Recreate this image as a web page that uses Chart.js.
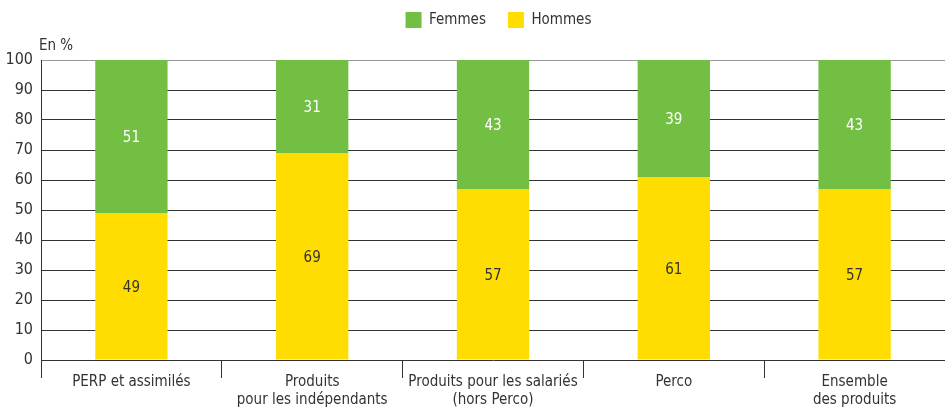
<!DOCTYPE html>
<html>
<head>
<meta charset="utf-8">
<script src="https://cdn.jsdelivr.net/npm/chart.js@4/dist/chart.umd.min.js"></script>
<style>
  html, body { margin: 0; padding: 0; background: #fff; }
  #wrap { width: 945px; height: 410px; position: relative; }
</style>
</head>
<body>
<div id="wrap"><canvas id="c"></canvas></div>
<script>
// Répartition par sexe des détenteurs de produits d'épargne retraite
const categories = [
  'PERP et assimilés',
  ['Produits', 'pour les indépendants'],
  ['Produits pour les salariés', '(hors Perco)'],
  'Perco',
  ['Ensemble', 'des produits']
];
const hommes = [49, 69, 57, 61, 57];
const femmes = [51, 31, 43, 39, 43];
const yTicks = [0, 10, 20, 30, 40, 50, 60, 70, 80, 90, 100];

const FONT = "'Liberation Sans Narrow', 'DejaVu Sans Condensed', sans-serif";
const TEXT = '#333333';
const SIZE = 15;

// Valeurs inscrites au centre de chaque segment
const valueLabels = {
  id: 'valueLabels',
  afterDatasetsDraw(chart) {
    const ctx = chart.ctx;
    ctx.save();
    ctx.font = SIZE + 'px ' + FONT;
    ctx.textAlign = 'center';
    ctx.textBaseline = 'middle';
    chart.data.datasets.forEach((ds, i) => {
      const meta = chart.getDatasetMeta(i);
      meta.data.forEach((bar, j) => {
        const mid = (bar.y + bar.base) / 2;
        ctx.fillStyle = ds.labelColor;
        ctx.fillText(String(ds.data[j]), bar.x, mid + 2);
      });
    });
    ctx.restore();
  }
};

// Unité au-dessus de l'axe vertical
const unitLabel = {
  id: 'unitLabel',
  afterDraw(chart) {
    const ctx = chart.ctx;
    ctx.save();
    ctx.font = SIZE + 'px ' + FONT;
    ctx.fillStyle = TEXT;
    ctx.textAlign = 'left';
    ctx.textBaseline = 'alphabetic';
    ctx.fillText('En %', chart.chartArea.left - 2, chart.chartArea.top - 10);
    ctx.restore();
  }
};

// Légende : hauteur fixe et centrage sur la zone de tracé
const legendPlacement = {
  id: 'legendPlacement',
  beforeLayout(chart) {
    const lg = chart.legend;
    if (lg && !lg._fixedFit) {
      const orig = lg.fit.bind(lg);
      lg.fit = function () { orig(); this.height = 70; };
      lg._fixedFit = true;
    }
  },
  afterLayout(chart) {
    const lg = chart.legend;
    if (lg) {
      lg.left = chart.chartArea.left * 2 - 30;
    }
  }
};

new Chart(document.getElementById('c'), {
  type: 'bar',
  data: {
    labels: categories,
    datasets: [
      { label: 'Hommes', data: hommes, backgroundColor: '#ffdd00', labelColor: '#333333' },
      { label: 'Femmes', data: femmes, backgroundColor: '#72bf44', labelColor: '#ffffff' }
    ]
  },
  options: {
    responsive: true,
    maintainAspectRatio: false,
    animation: false,
    layout: { padding: { top: -10, right: 0, left: 0, bottom: 0 } },
    datasets: { bar: { categoryPercentage: 1, barPercentage: 0.4 } },
    plugins: {
      tooltip: { enabled: false },
      legend: {
        position: 'top',
        reverse: true,
        labels: {
          font: { family: FONT, size: SIZE },
          color: TEXT,
          boxWidth: 16,
          boxHeight: 16,
          padding: 22
        }
      }
    },
    scales: {
      x: {
        stacked: true,
        offset: true,
        border: { display: false },
        grid: {
          offset: true,
          drawOnChartArea: false,
          drawTicks: true,
          tickLength: 18,
          color: '#333333',
          lineWidth: 1
        },
        ticks: {
          font: { family: FONT, size: SIZE, lineHeight: 1.2 },
          color: TEXT,
          padding: -5,
          maxRotation: 0,
          autoSkip: false
        },
        afterFit(scale) { scale.height = 50; }
      },
      y: {
        stacked: true,
        min: 0,
        max: 100,
        afterBuildTicks(scale) { scale.ticks = yTicks.map(v => ({ value: v })); },
        border: { display: true, color: '#333333', width: 1 },
        grid: {
          drawTicks: false,
          color: ctx => (ctx.tick && ctx.tick.value === 100 ? '#999999' : '#333333'),
          lineWidth: 1
        },
        ticks: {
          font: { family: FONT, size: SIZE + 1 },
          color: TEXT,
          padding: 8
        },
        afterFit(scale) { scale.width = 41; }
      }
    }
  },
  plugins: [legendPlacement, valueLabels, unitLabel]
});
</script>
</body>
</html>
